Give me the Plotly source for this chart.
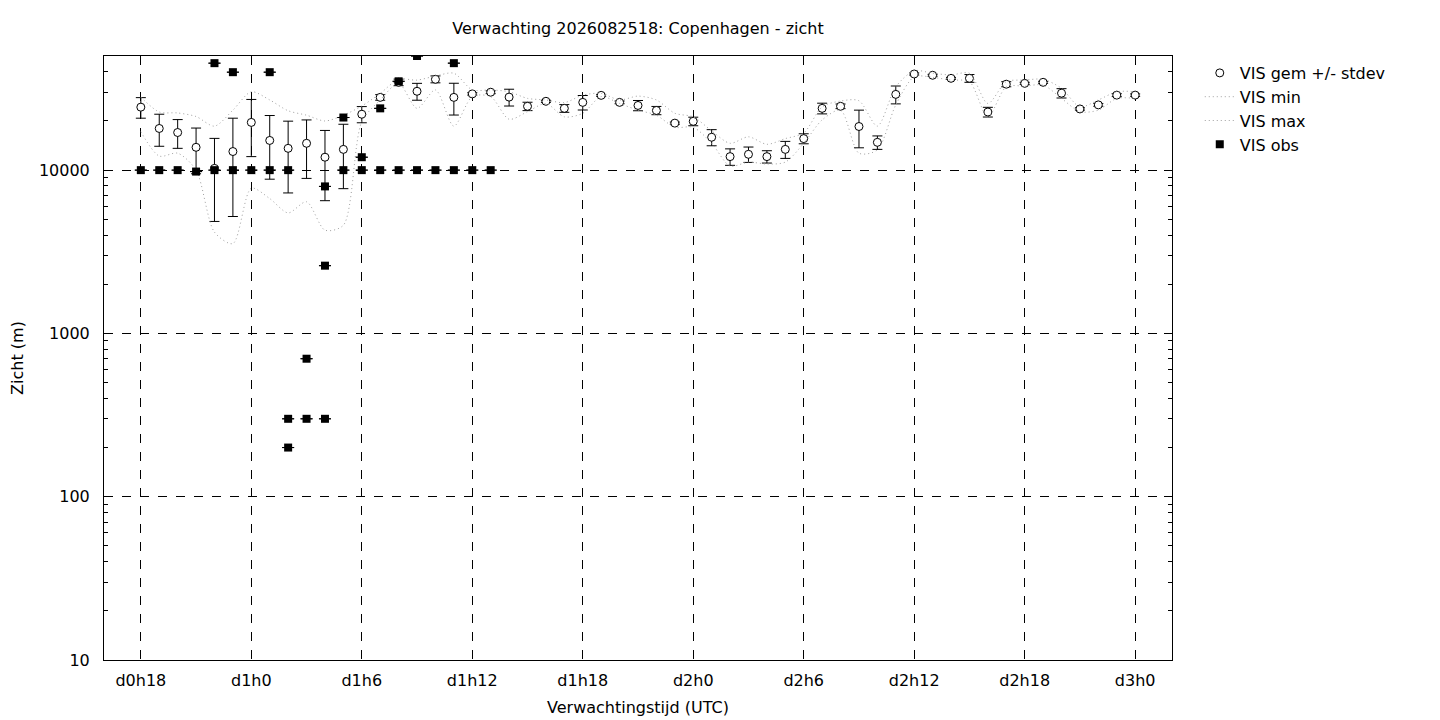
import plotly.graph_objects as go

# forecast lead time in hours after d0h0
hours = [18, 19, 20, 21, 22, 23, 24, 25, 26, 27, 28, 29, 30, 31, 32, 33, 34, 35, 36,
         37, 38, 39, 40, 41, 42, 43, 44, 45, 46, 47, 48, 49, 50, 51, 52, 53, 54, 55,
         56, 57, 58, 59, 60, 61, 62, 63, 64, 65, 66, 67, 68, 69, 70, 71, 72]

vis_mean = [24300, 18000, 17000, 13800, 10250, 13000, 19600, 15200, 13600, 14600,
            12000, 13400, 22000, 27900, 34500, 30400, 36000, 27900, 29300, 30000,
            28000, 24600, 26400, 23900, 26000, 28700, 26000, 24900, 23200, 19400,
            19900, 15900, 12100, 12500, 12100, 13400, 15600, 23900, 24600, 18500,
            14800, 29100, 38800, 38100, 36500, 36500, 22700, 33600, 34000, 34500,
            29600, 23700, 25100, 28800, 28800]

vis_std = [3500, 4000, 3400, 4300, 5400, 7800, 7500, 6400, 6350, 5700,
           5500, 5700, 2500, 1100, 1600, 3600, 1750, 6150, 500, 600,
           3300, 1450, 400, 1300, 2650, 400, 500, 1800, 1350, 300,
           1200, 1800, 1400, 1350, 1050, 1600, 1100, 1800, 800, 4800,
           1400, 3650, 600, 500, 500, 2000, 1550, 1200, 500, 500,
           1950, 400, 500, 600, 500]

vis_min = [17200, 12200, 12700, 10000, 4170, 3550, 7750, 6700, 5470, 6400,
           4290, 4600, 19800, 26900, 34000, 23900, 31000, 18600, 28200, 28200,
           20500, 22800, 25600, 21200, 22300, 28200, 25600, 23300, 21700, 18300,
           18300, 14600, 10600, 11200, 10900, 11200, 14600, 20300, 23300, 12700,
           13300, 25100, 37300, 37000, 35600, 34800, 21200, 32400, 32700, 33200,
           27500, 22800, 23300, 27500, 27500]

vis_max = [28000, 22700, 22400, 21300, 18600, 23300, 30200, 26900, 23100, 21700,
           20000, 21700, 24700, 29500, 36000, 35600, 37700, 39200, 31000, 31000,
           30200, 27500, 26900, 25900, 28800, 29500, 26900, 28400, 26900, 22300,
           21200, 17400, 14600, 16000, 14400, 15600, 16900, 24400, 26500, 26600,
           18600, 32400, 40600, 39200, 38300, 39200, 25600, 34800, 35600, 36000,
           31700, 24400, 26900, 30200, 30200]

# observations (several reports can fall in the same hour)
obs_hours = [18, 19, 20, 21, 22, 22, 23, 23, 24, 25, 25, 26, 26, 26, 27, 27,
             28, 28, 28, 29, 29, 30, 30, 31, 31, 32, 32, 33, 33, 34, 35, 35, 36, 37]
obs_vals = [10000, 10000, 10000, 9800, 10000, 45200, 10000, 39800, 10000, 10000, 39800,
            10000, 300, 200, 700, 300, 7950, 2600, 300, 10000, 21000, 10000, 12000,
            10000, 23900, 10000, 35000, 10000, 50000, 10000, 10000, 45200, 10000, 10000]

tick_hours = [18, 24, 30, 36, 42, 48, 54, 60, 66, 72]
tick_labels = ["d0h18", "d1h0", "d1h6", "d1h12", "d1h18", "d2h0", "d2h6", "d2h12", "d2h18", "d3h0"]

y_ticks = [10, 100, 1000, 10000]
y_minor = [20, 30, 40, 50, 60, 70, 80, 90,
           200, 300, 400, 500, 600, 700, 800, 900,
           2000, 3000, 4000, 5000, 6000, 7000, 8000, 9000,
           20000, 30000, 40000]

FONT = "DejaVu Sans"
FS = 16

fig = go.Figure()

fig.add_trace(go.Scatter(
    x=hours, y=vis_mean, mode="markers", name="VIS gem +/- stdev",
    marker=dict(symbol="circle", color="white", size=8, line=dict(width=1, color="black")),
    error_y=dict(type="data", array=vis_std, color="black", thickness=1, width=5),
))
fig.add_trace(go.Scatter(
    x=hours, y=vis_min, mode="lines", name="VIS min",
    line=dict(color="#a0a0a0", width=1, dash="1px,3px", shape="spline", smoothing=0.8),
))
fig.add_trace(go.Scatter(
    x=hours, y=vis_max, mode="lines", name="VIS max",
    line=dict(color="#a0a0a0", width=1, dash="1px,3px", shape="spline", smoothing=0.8),
))
fig.add_trace(go.Scatter(
    x=obs_hours, y=obs_vals, mode="markers", name="VIS obs",
    marker=dict(symbol="square", color="black", size=8),
    error_y=dict(type="data", array=[0] * len(obs_vals), color="black", thickness=1, width=6),
))

# the page body adds an 8px offset, margins compensate for it
fig.update_layout(
    width=1440, height=720,
    paper_bgcolor="white", plot_bgcolor="white",
    font=dict(family=FONT, size=FS, color="black"),
    margin=dict(l=96, r=276, t=48, b=68, autoexpand=False),
    title=dict(text="Verwachting 2026082518: Copenhagen - zicht", xref="paper", x=0.5,
               xanchor="center", yref="container", y=0.971, yanchor="middle",
               font=dict(size=FS)),
    legend=dict(x=1.026, y=1.0, xanchor="left", yanchor="top", bgcolor="rgba(0,0,0,0)",
                font=dict(size=FS), tracegroupgap=0),
    showlegend=True,
)

fig.update_xaxes(
    range=[16, 74], tickvals=tick_hours, ticktext=tick_labels, automargin=False,
    showline=True, linecolor="black", linewidth=1, mirror=True,
    ticks="", ticklabelstandoff=6, tickfont=dict(size=FS),
    showgrid=True, gridcolor="black", gridwidth=1, griddash="dash",
    zeroline=False,
    title=dict(text="Verwachtingstijd (UTC)", standoff=12, font=dict(size=FS)),
)
fig.update_yaxes(
    type="log", range=[1, 4.699], tickvals=y_ticks, automargin=False,
    ticktext=[str(v) for v in y_ticks],
    showline=True, linecolor="black", linewidth=1, mirror="allticks",
    ticks="inside", ticklen=8, tickcolor="black", ticklabelstandoff=10,
    tickfont=dict(size=FS),
    minor=dict(tickvals=y_minor, ticks="inside", ticklen=4, tickcolor="black", showgrid=False),
    showgrid=True, gridcolor="black", gridwidth=1, griddash="dash",
    zeroline=False,
    title=dict(text="Zicht (m)", standoff=18, font=dict(size=FS)),
)

fig.write_html("out.html")
